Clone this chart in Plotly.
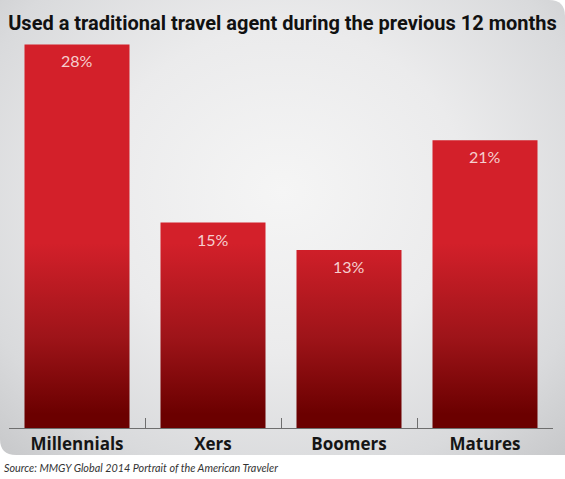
import base64
import plotly.graph_objects as go

# data
groups = ['Millennials', 'Xers', 'Boomers', 'Matures']
share = [28, 15, 13, 21]
value_labels = ['28%', '15%', '13%', '21%']

W, H = 565, 479
ML, MR, MT, MB = 9, 12, 17, 51
PW, PH = W - ML - MR, H - MT - MB
BAR_W = 0.772

# grey panel with a soft radial light, rounded top-right / bottom-left corners
panel_svg = """<svg xmlns="http://www.w3.org/2000/svg" width="565" height="455" viewBox="0 0 565 455">
<defs><radialGradient id="g" cx="0.5" cy="0.42" r="0.72" gradientTransform="translate(0.5 0.42) scale(1 1.1) translate(-0.5 -0.42)">
<stop offset="0" stop-color="#f5f5f5"/><stop offset="0.45" stop-color="#ebebec"/>
<stop offset="0.8" stop-color="#d9dadc"/><stop offset="1" stop-color="#c8c9cb"/></radialGradient></defs>
<path d="M0 0 H549 Q565 0 565 16 V455 H16 Q0 455 0 439 Z" fill="url(#g)"/></svg>"""
panel_src = 'data:image/svg+xml;base64,' + base64.b64encode(panel_svg.encode()).decode()

fig = go.Figure()

for i, v in enumerate(share):
    fig.add_trace(go.Scatter(
        x=[i - BAR_W / 2, i - BAR_W / 2, i + BAR_W / 2, i + BAR_W / 2, i - BAR_W / 2],
        y=[0, v, v, 0, 0],
        mode='lines', line=dict(width=0),
        fill='toself',
        fillgradient=dict(type='vertical', start=1.0, stop=13.5,
                          colorscale=[[0, '#6b0000'], [0.45, '#9e1419'], [1, '#d3202a']]),
        hoverinfo='skip', showlegend=False))
    fig.add_annotation(x=i, y=v, xref='x', yref='y', text=value_labels[i],
                       showarrow=False, yanchor='top', yshift=-5,
                       font=dict(family='Lato, Open Sans, sans-serif', size=16, color='#f6cfcf'))

# invisible trace so the label axis is drawn
fig.add_trace(go.Scatter(x=[0, 3], y=[0, 0], xaxis='x2', mode='markers',
                         marker=dict(opacity=0), hoverinfo='skip', showlegend=False))

fig.add_layout_image(dict(
    source=panel_src, xref='paper', yref='paper',
    x=-ML / PW, y=1 + MT / PH, sizex=W / PW, sizey=455 / PH,
    xanchor='left', yanchor='top', sizing='stretch', layer='below'))

fig.add_annotation(
    xref='paper', yref='paper', x=-7 / PW, y=-39 / PH, xanchor='left', yanchor='middle',
    text='<i>Source: MMGY Global 2014 Portrait of the American Traveler</i>',
    showarrow=False, font=dict(family='Lato, Open Sans, sans-serif', size=10.8, color='#333333'))

fig.update_layout(
    width=W, height=H,
    margin=dict(l=ML, r=MR, t=MT, b=MB),
    paper_bgcolor='white', plot_bgcolor='rgba(0,0,0,0)',
    title=dict(text='<b>Used a traditional travel agent during the previous 12 months</b>',
               x=0.5, xref='container', xanchor='center',
               y=1 - 23 / H, yref='container', yanchor='middle',
               font=dict(family='Roboto, sans-serif', size=20, color='#111111')),
    xaxis=dict(range=[-0.5, 3.5], tickmode='array', tickvals=[-0.5, 0.5, 1.5, 2.5, 3.5],
               ticks='inside', ticklen=10, tickcolor='#6e6e6e', tickwidth=1,
               showticklabels=False, showline=True, linecolor='#6e6e6e', linewidth=1,
               showgrid=False, zeroline=False, fixedrange=True),
    xaxis2=dict(range=[-0.5, 3.5], overlaying='x', side='bottom', anchor='y',
                tickmode='array', tickvals=list(range(len(groups))), ticktext=groups,
                ticks='', showline=False, showgrid=False, zeroline=False,
                ticklabelstandoff=4,
                tickfont=dict(family='Open Sans, sans-serif', size=17, color='#151515',
                              weight='bold')),
    yaxis=dict(range=[0, 30], visible=False, fixedrange=True),
)

# the page body has a default 8px margin; drop it so the figure fills the window
fig.write_html('out.html', config={'displayModeBar': False},
               post_script="document.body.style.margin='0';")
